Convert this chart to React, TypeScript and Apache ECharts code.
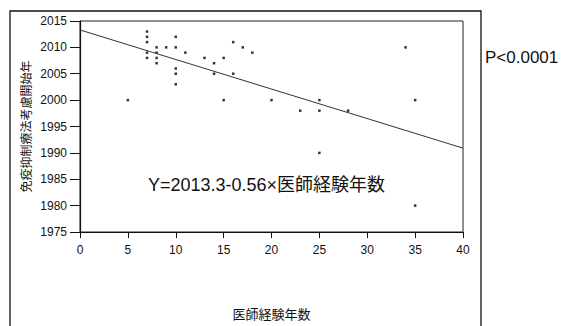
import React, { useEffect, useRef } from "react";
import * as echarts from "echarts";

const experienceYears = [5, 7, 7, 7, 7, 7, 8, 8, 8, 8, 9, 10, 10, 10, 10, 10, 11, 13, 14, 14, 15, 15, 16, 16, 17, 18, 20, 23, 25, 25, 25, 28, 34, 35, 35];
const startYears = [2000, 2013, 2012, 2011, 2009, 2008, 2010, 2009, 2008, 2007, 2010, 2012, 2010, 2006, 2005, 2003, 2009, 2008, 2007, 2005, 2008, 2000, 2011, 2005, 2010, 2009, 2000, 1998, 2000, 1998, 1990, 1998, 2010, 2000, 1980];
const intercept = 2013.3;
const slope = -0.56;
const lineX = [0, 40];
const xTicks = [0, 5, 10, 15, 20, 25, 30, 35, 40];
const yTicks = [1975, 1980, 1985, 1990, 1995, 2000, 2005, 2010, 2015];

const FONT = "'Liberation Sans', Arial, 'Noto Sans CJK JP', sans-serif";

export default function App() {
  const ref = useRef<HTMLDivElement>(null);
  useEffect(() => {
    if (!ref.current) return;
    const chart = echarts.init(ref.current, undefined, { renderer: "svg" });
    const points = experienceYears.map((x, i) => [x, startYears[i]]);
    const linePts = lineX.map((x) => [x, intercept + slope * x]);
    chart.setOption({
      animation: false,
      backgroundColor: "#fff",
      grid: {
        left: 80,
        top: 21,
        right: 100,
        bottom: 87,
        show: true,
        borderColor: "#222",
        borderWidth: 1,
      },
      xAxis: {
        type: "value",
        min: xTicks[0],
        max: xTicks[xTicks.length - 1],
        interval: 5,
        splitLine: { show: false },
        axisLine: { show: true, lineStyle: { color: "#111", width: 1.2 } },
        axisTick: { show: true, length: 6, inside: false, lineStyle: { color: "#111" } },
        axisLabel: { color: "#111", fontSize: 12, fontFamily: FONT, margin: 12, formatter: (v: number) => String(v) },
        name: "医師経験年数",
        nameLocation: "middle",
        nameGap: 76,
        nameMoveOverlap: false,
        nameTextStyle: { color: "#111", fontSize: 13, fontFamily: FONT },
      },
      yAxis: {
        type: "value",
        min: yTicks[0],
        max: yTicks[yTicks.length - 1],
        interval: 5,
        splitLine: { show: false },
        axisLine: { show: true, lineStyle: { color: "#111", width: 1.2 } },
        axisTick: { show: true, length: 10, inside: false, lineStyle: { color: "#111" } },
        axisLabel: { color: "#111", fontSize: 12, fontFamily: FONT, margin: 13, formatter: (v: number) => String(v) },
        name: "免疫抑制療法考慮開始年",
        nameLocation: "middle",
        nameGap: 47,
        nameRotate: 90,
        nameMoveOverlap: false,
        nameTextStyle: { color: "#111", fontSize: 12, fontFamily: FONT },
      },
      series: [
        {
          type: "line",
          data: linePts,
          symbol: "none",
          lineStyle: { color: "#333", width: 1 },
          silent: true,
        },
        {
          type: "scatter",
          data: points,
          symbol: "rect",
          symbolSize: 2.5,
          itemStyle: { color: "#000" },
        },
      ],
      graphic: [
        {
          type: "polyline",
          shape: { points: [[10, 330], [10, 11], [481, 11], [481, 330]] },
          style: { stroke: "#111", lineWidth: 1.3, fill: "none" },
          silent: true,
        },
        {
          type: "text",
          left: 148,
          top: 176,
          style: {
            text: "Y=2013.3-0.56×医師経験年数",
            fontSize: 18,
            fontFamily: FONT,
            fill: "#111",
          },
        },
        {
          type: "text",
          left: 485,
          top: 49,
          style: {
            text: "P<0.0001",
            fontSize: 17,
            fontFamily: FONT,
            fill: "#111",
          },
        },
      ],
    });
    return () => chart.dispose();
  }, []);
  return <div ref={ref} style={{ width: 563, height: 326, position: "absolute", left: 0, top: 0 }} />;
}
